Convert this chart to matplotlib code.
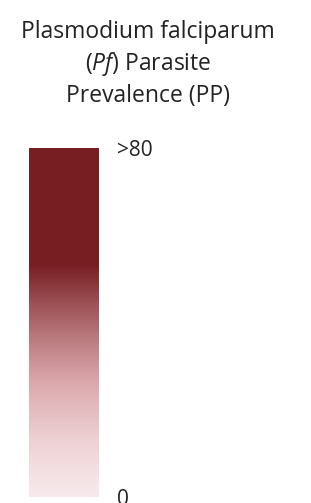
import numpy as np
import matplotlib
matplotlib.use("Agg")
import matplotlib.pyplot as plt
from matplotlib.colors import LinearSegmentedColormap, Normalize
from matplotlib.colorbar import ColorbarBase

# ---------------------------------------------------------------
# datos de la leyenda
# ---------------------------------------------------------------
TITLE_LINES = ["Plasmodium falciparum", r"($\it{Pf}$) Parasite", "Prevalence (PP)"]
PP_MIN = 0
PP_MAX = 80
TICK_VALUES = [0, 80]
TICK_LABELS = ["0", ">80"]

# paradas del degradado (fracción desde abajo, color)
STOP_POS = [0.0, 0.163, 0.32, 0.45, 0.565, 0.665, 1.0]
STOP_COLORS = ["#f7eaec", "#edd0d3", "#dcaaae", "#bb7c80", "#984c50",
               "#771e23", "#771e23"]

plt.rcParams["font.family"] = ["Open Sans", "DejaVu Sans"]
plt.rcParams["mathtext.fontset"] = "custom"
plt.rcParams["mathtext.it"] = "Open Sans:italic"
plt.rcParams["mathtext.rm"] = "Open Sans"

TEXT_COLOR = "#222222"

fig = plt.figure(figsize=(3.11, 5.03), dpi=100)

cmap = LinearSegmentedColormap.from_list("pp", list(zip(STOP_POS, STOP_COLORS)))

W, H = 311, 503
cax = fig.add_axes([29 / W, 6 / H, 70 / W, 349 / H])
cb = ColorbarBase(cax, cmap=cmap, norm=Normalize(PP_MIN, PP_MAX),
                  orientation="vertical", ticks=TICK_VALUES)
cb.outline.set_visible(False)
cb.ax.set_yticklabels(TICK_LABELS)
cb.ax.tick_params(length=0, pad=13, labelsize=15, labelcolor=TEXT_COLOR)

# título
y_pos = [32, 64, 96]
for line, y in zip(TITLE_LINES, y_pos):
    fig.text(148 / W, 1 - y / H, line, ha="center", va="center",
             fontsize=16.5, color=TEXT_COLOR)

fig.savefig("out.png", dpi=100)
